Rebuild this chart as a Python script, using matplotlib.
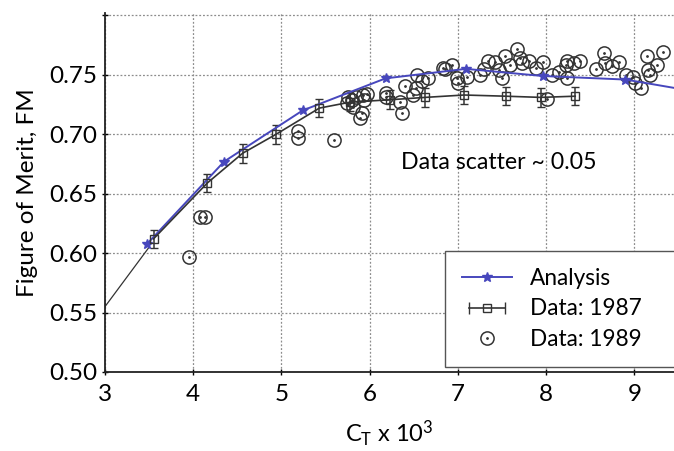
import matplotlib
matplotlib.use("Agg")
import matplotlib.pyplot as plt
from matplotlib.lines import Line2D
from matplotlib.legend_handler import HandlerLine2D
import numpy as np

plt.rcParams['font.family'] = ['Lato', 'DejaVu Sans']

# analysis curve (markers on all but the last point, which is the curve end)
ct_analysis = [3.48, 4.35, 5.24, 6.18, 7.09, 7.96, 8.90, 9.45]
fm_analysis = [0.608, 0.677, 0.720, 0.747, 0.755, 0.749, 0.746, 0.739]

# low-thrust extension of the fit
ct_ext = [3.0, 3.50]
fm_ext = [0.555, 0.605]

# 1987 test data with error bars
ct_1987 = [3.55, 4.16, 4.56, 4.94, 5.43, 5.78, 6.23, 6.63, 7.07, 7.54, 7.94, 8.33]
fm_1987 = [0.612, 0.659, 0.684, 0.700, 0.722, 0.727, 0.729, 0.731, 0.733, 0.732, 0.731, 0.732]
err_1987 = 0.0078

# 1989 test data
ct_1989 = [3.95, 4.08, 4.13, 5.19, 5.19, 5.60,
           5.74, 5.80, 5.81, 5.85, 5.92, 5.97, 5.91, 5.89, 5.75, 5.94,
           6.19, 6.19, 6.34, 6.40, 6.37, 6.49, 6.54, 6.66, 6.53, 6.59,
           6.85, 6.93, 6.99, 7.00, 7.10, 7.25, 7.30, 7.34, 7.42, 7.47,
           7.53, 7.59, 7.67, 7.73, 7.81, 7.89, 7.96, 8.07, 8.15, 8.23,
           8.24, 8.32, 8.38, 8.24, 8.01, 8.57, 8.66, 8.67, 8.75, 8.83,
           8.91, 8.98, 9.01, 9.08, 9.14, 9.16, 9.18, 9.26, 9.32,
           6.83, 7.70, 7.50]
fm_1989 = [0.597, 0.630, 0.630, 0.703, 0.697, 0.695,
           0.726, 0.729, 0.723, 0.731, 0.733, 0.734, 0.718, 0.714, 0.731, 0.729,
           0.735, 0.731, 0.727, 0.741, 0.718, 0.733, 0.750, 0.747, 0.739, 0.745,
           0.755, 0.758, 0.747, 0.743, 0.748, 0.750, 0.755, 0.762, 0.761, 0.754,
           0.766, 0.758, 0.772, 0.760, 0.762, 0.756, 0.761, 0.750, 0.752, 0.758,
           0.762, 0.760, 0.762, 0.747, 0.730, 0.755, 0.768, 0.760, 0.757, 0.761,
           0.750, 0.748, 0.743, 0.739, 0.766, 0.754, 0.750, 0.758, 0.769,
           0.756, 0.764, 0.747]

blue = '#4747bd'
dark = '#333333'

fig = plt.figure(figsize=(6.74, 4.51), dpi=100)
ax = fig.add_axes([0.1558, 0.1752, 0.8442, 0.796])

ax.grid(True, linestyle=(0, (1.5, 1.5)), color='#8c8c8c', linewidth=0.9)
ax.set_axisbelow(True)

ax.plot(ct_ext, fm_ext, color=dark, linewidth=0.9)

# 1989 circles with a dot in the middle
ax.plot(ct_1989, fm_1989, linestyle='none', marker='o', markersize=9.5,
        markerfacecolor='none', markeredgecolor=dark, markeredgewidth=1.1)
ax.plot(ct_1989, fm_1989, linestyle='none', marker='.', markersize=2,
        color=dark)

ax.errorbar(ct_1987, fm_1987, yerr=err_1987, color=dark, linewidth=1.2,
            marker='s', markersize=5.5, markerfacecolor='none',
            markeredgecolor=dark, capsize=3, elinewidth=1.1)

ax.plot(ct_analysis, fm_analysis, color=blue, linewidth=1.4, marker='*',
        markersize=7, markevery=list(range(len(ct_analysis) - 1)))

ax.set_xlim(3, 9.45)
ax.set_ylim(0.50, 0.802)
ax.set_xticks([3, 4, 5, 6, 7, 8, 9])
ax.set_yticks([0.50, 0.55, 0.60, 0.65, 0.70, 0.75, 0.80])
ax.set_yticklabels(['0.50', '0.55', '0.60', '0.65', '0.70', '0.75', ''])
ax.tick_params(labelsize=17.5, direction='inout', length=5, width=1)
ax.tick_params(axis='x', pad=6)
ax.tick_params(axis='y', pad=3)

for side in ['top', 'right']:
    ax.spines[side].set_visible(False)
for side in ['left', 'bottom']:
    ax.spines[side].set_linewidth(1.3)
    ax.spines[side].set_color('#222222')

ax.set_xlabel(r'$\mathregular{C_T}$ x $\mathregular{10^3}$', fontsize=17, labelpad=10)
ax.set_ylabel('Figure of Merit, FM', fontsize=17.5, labelpad=8)

ax.text(0.52, 0.565, 'Data scatter ~ 0.05', transform=ax.transAxes,
        fontsize=16.7, ha='left', va='baseline')

# legend handles
h_analysis = Line2D([], [], color=blue, linewidth=1.4, marker='*', markersize=7)
h_caps = Line2D([], [], color=dark, linewidth=1.2, marker='|', markersize=8)
h_square = Line2D([], [], linestyle='none', marker='s', markersize=5.5,
                  markerfacecolor='none', markeredgecolor=dark)
h_circle = Line2D([], [], linestyle='none', marker='o', markersize=9.5,
                  markerfacecolor='none', markeredgecolor=dark, markeredgewidth=1.1)
h_dot = Line2D([], [], linestyle='none', marker='.', markersize=2, color=dark)

# the frame runs past the right edge of the axes
leg = ax.legend([h_analysis, (h_caps, h_square), (h_circle, h_dot)],
                ['Analysis', 'Data: 1987', 'Data: 1989'],
                handler_map={h_caps: HandlerLine2D(numpoints=2)},
                loc='lower left', bbox_to_anchor=(0.5975, 0.014, 0.42, 0.3),
                mode='expand', borderaxespad=0, fontsize=16.3, fancybox=False,
                framealpha=1, edgecolor='#555555', handlelength=2.2,
                handletextpad=0.8, labelspacing=0.42, borderpad=0.75)
leg.get_frame().set_linewidth(1.0)
leg.set_clip_on(False)

fig.savefig('out.png', dpi=100)
